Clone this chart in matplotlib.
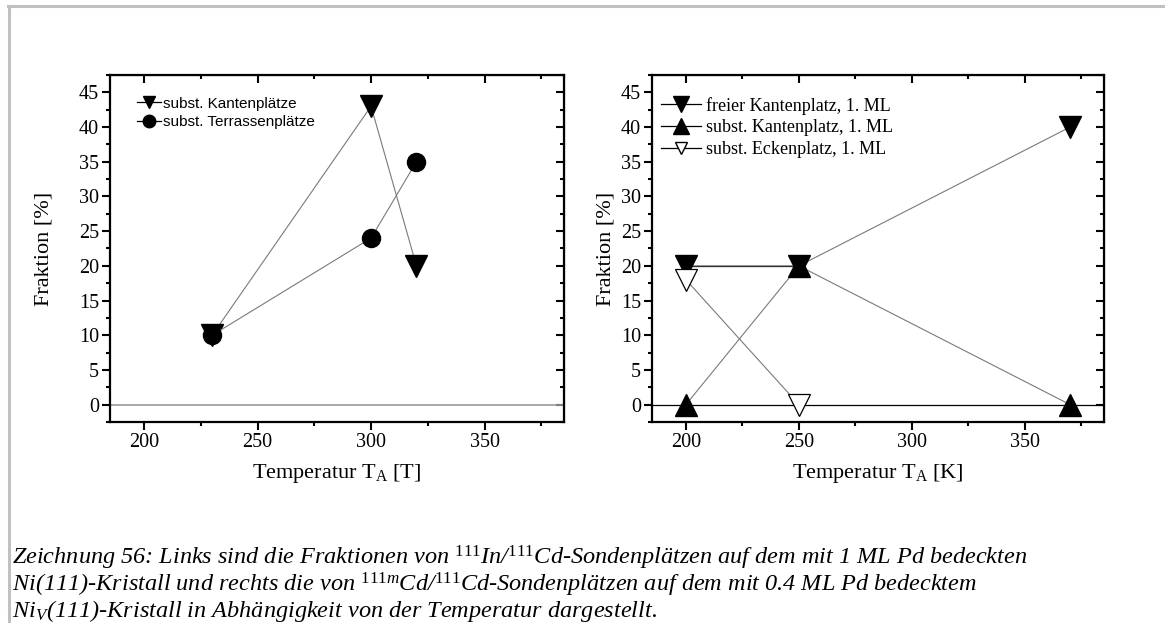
import matplotlib
matplotlib.use("Agg")
import matplotlib.pyplot as plt
from matplotlib.lines import Line2D
from matplotlib.ticker import MultipleLocator

plt.rcParams['font.family'] = ['Liberation Serif', 'DejaVu Serif']
plt.rcParams['mathtext.fontset'] = 'custom'
plt.rcParams['mathtext.rm'] = 'Liberation Serif'
plt.rcParams['mathtext.it'] = 'Liberation Serif:italic'

# left panel: 111In/111Cd on 1 ML Pd / Ni(111)
temp_left = [230, 300, 320]
kanten_left = [10, 43, 20]
terrassen_left = [10, 24, 35]
labels_left = ["subst. Kantenplätze", "subst. Terrassenplätze"]

# right panel: 111mCd/111Cd on 0.4 ML Pd / Ni(111)
temp_right = [200, 250, 370]
freier_kante = [20, 20, 40]
subst_kante = [0, 20, 0]
temp_ecke = [200, 250]
subst_ecke = [18, 0]
labels_right = ["freier Kantenplatz, 1. ML", "subst. Kantenplatz, 1. ML",
                "subst. Eckenplatz, 1. ML"]

xlabels = [r"Temperatur T$_\mathrm{A}$ [T]", r"Temperatur T$_\mathrm{A}$ [K]"]

caption = [
    r"Zeichnung 56: Links sind die Fraktionen von $^{\mathit{111}}$In/$^{\mathit{111}}$Cd-Sondenplätzen auf dem mit 1 ML Pd bedeckten",
    r"Ni(111)-Kristall und rechts die von $^{\mathit{111m}}$Cd/$^{\mathit{111}}$Cd-Sondenplätzen auf dem mit 0.4 ML Pd bedecktem",
    r"Ni$_{\mathit{V}}$(111)-Kristall in Abhängigkeit von der Temperatur dargestellt.",
]

W, H = 1165, 623
fig = plt.figure(figsize=(W / 100, H / 100), dpi=100)
fig.patch.set_facecolor("white")

# gray frame (top and left)
fig.add_artist(Line2D([8 / W, 1], [1 - 6 / H, 1 - 6 / H], color="#c0c0c0", lw=2.2))
fig.add_artist(Line2D([8.5 / W, 8.5 / W], [0, 1 - 6 / H], color="#c0c0c0", lw=2.2))

ax1 = fig.add_axes([110 / W, 1 - 422 / H, 454 / W, 347 / H])
ax2 = fig.add_axes([652 / W, 1 - 422 / H, 452 / W, 347 / H])

line_gray = "#7a7a7a"

# left data
ax1.axhline(0, color="#9a9a9a", lw=1.2, zorder=1)
ax1.plot(temp_left, kanten_left, color=line_gray, lw=0.8, marker="v", ms=16.5,
         mfc="black", mec="black", zorder=3)
ax1.plot(temp_left, terrassen_left, color=line_gray, lw=0.8, marker="o", ms=13,
         mfc="black", mec="black", zorder=3)

# right data
ax2.axhline(0, color="black", lw=0.9, zorder=1)
ax2.plot(temp_right, freier_kante, color=line_gray, lw=0.8, marker="v", ms=16.5,
         mfc="black", mec="black", zorder=3)
ax2.plot(temp_right[:2], freier_kante[:2], color="black", lw=0.9, zorder=2)
ax2.plot(temp_right, subst_kante, color=line_gray, lw=0.8, marker="^", ms=16.5,
         mfc="black", mec="black", zorder=3)
ax2.plot(temp_ecke, subst_ecke, color=line_gray, lw=0.8, marker="v", ms=16.5,
         mfc="white", mec="black", mew=0.9, zorder=4)

for ax, xl, ypad in zip([ax1, ax2], xlabels, [18, 4]):
    ax.set_xlim(185, 385)
    ax.set_ylim(-2.5, 47.5)
    ax.xaxis.set_major_locator(MultipleLocator(50))
    ax.xaxis.set_minor_locator(MultipleLocator(25))
    ax.yaxis.set_major_locator(MultipleLocator(5))
    ax.yaxis.set_minor_locator(MultipleLocator(2.5))
    ax.tick_params(which="both", direction="out", width=1.5, labelsize=14.5,
                   top=False, right=False)
    ax.tick_params(which="major", length=6, pad=2)
    ax.tick_params(which="minor", length=3)
    for s in ax.spines.values():
        s.set_linewidth(1.6)
    ax.set_ylabel("Fraktion [%]", fontsize=16, labelpad=ypad)
    ax.set_xlabel(xl, fontsize=16, labelpad=7)

    top = ax.secondary_xaxis("top")
    top.xaxis.set_major_locator(MultipleLocator(50))
    top.xaxis.set_minor_locator(MultipleLocator(25))
    top.tick_params(which="both", direction="in", width=1.5, labeltop=False)
    top.tick_params(which="major", length=6)
    top.tick_params(which="minor", length=3)
    right = ax.secondary_yaxis("right")
    right.yaxis.set_major_locator(MultipleLocator(5))
    right.yaxis.set_minor_locator(MultipleLocator(2.5))
    right.tick_params(which="both", direction="in", width=1.5, labelright=False)
    right.tick_params(which="major", length=6)
    right.tick_params(which="minor", length=3)

# legends with black lines
h1 = [Line2D([], [], color="black", lw=0.9, marker=m, ms=9, mfc="black", mec="black")
      for m in ["v", "o"]]
ax1.legend(h1, labels_left, loc="upper left", bbox_to_anchor=(0.045, 0.955),
           frameon=False, handlelength=1.6, handletextpad=0.15, labelspacing=0.3,
           borderaxespad=0.0, prop={"family": "Liberation Sans", "size": 11})

h2 = [Line2D([], [], color="black", lw=0.9, marker="v", ms=11, mfc="black", mec="black"),
      Line2D([], [], color="black", lw=0.9, marker="^", ms=11, mfc="black", mec="black"),
      Line2D([], [], color="black", lw=0.9, marker="v", ms=9, mfc="white", mec="black")]
ax2.legend(h2, labels_right, loc="upper left", bbox_to_anchor=(0.005, 0.958),
           frameon=False, handlelength=2.2, handletextpad=0.25, labelspacing=0.26,
           borderaxespad=0.0, prop={"family": "Liberation Serif", "size": 13})

for i, line in enumerate(caption):
    fig.text(12 / W, 1 - (558 + 26.5 * i) / H, line, fontsize=17.5, style="italic",
             va="center", ha="left", family="Liberation Serif")

fig.savefig("out.png", dpi=100)
